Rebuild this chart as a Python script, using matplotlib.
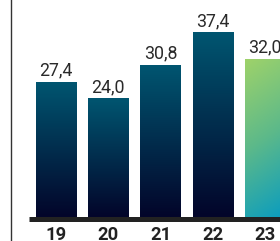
import numpy as np
import matplotlib.pyplot as plt
from matplotlib.colors import LinearSegmentedColormap

years = ["19", "20", "21", "22", "23"]
values = [27.4, 24.0, 30.8, 37.4, 32.0]
labels = ["27,4", "24,0", "30,8", "37,4", "32,0"]

fig = plt.figure(figsize=(2.8, 2.41), dpi=100)
ax = fig.add_axes([0, 0, 1, 1])
ax.set_xlim(-1.072, 4.287)
ax.set_ylim(-4.88, 44.1)
ax.axis("off")

width = 0.766
dark = LinearSegmentedColormap.from_list("dark", ["#03052a", "#005570"])
green = LinearSegmentedColormap.from_list("green", ["#0a9cbf", "#5cb98a", "#9ed26a"])

x = np.arange(len(years))
bars = ax.bar(x, values, width=width, color="none")

for i, (b, v) in enumerate(zip(bars, values)):
    x0 = b.get_x()
    ext = (x0, x0 + width, 0, v)
    if i == len(values) - 1:
        yy, xx = np.mgrid[0:1:100j, 0:1:50j]
        grad = np.clip(yy * 0.85 - xx * 0.15 + 0.15, 0, 1)
        ax.imshow(grad, cmap=green, extent=ext, origin="lower",
                  aspect="auto", zorder=2)
    else:
        grad = np.linspace(0, 1, 100).reshape(-1, 1)
        ax.imshow(grad, cmap=dark, extent=ext, origin="lower",
                  aspect="auto", zorder=2)
    ax.text(b.get_x() + width / 2, v + 1.42, labels[i], ha="center",
            va="baseline", fontsize=12.8, family="Roboto",
            fontweight="normal", color="#2a2a2a")
    ax.text(b.get_x() + width / 2, -4.75, years[i], ha="center",
            va="baseline", fontsize=13.2, family="Roboto",
            fontweight="bold", color="#222222")

ax.hlines(-0.5, -0.517, 4.3, color="#222222", lw=3.6, zorder=3)
ax.axvline(-0.861, color="#333333", lw=1.0)

fig.savefig("out.png", dpi=100)
